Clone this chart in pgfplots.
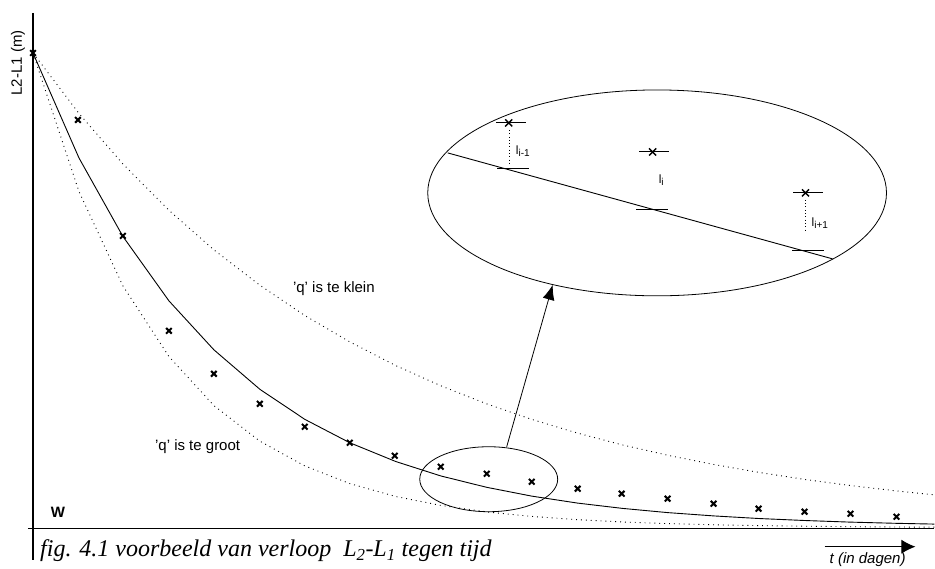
\documentclass[border=0pt]{standalone}
\usepackage{fontspec}
\setmainfont{Liberation Serif}
\setsansfont{Liberation Sans}
\usepackage{pgfplots}
\pgfplotsset{compat=1.18}
\usetikzlibrary{arrows.meta}

\pgfplotstableread{
x y
33 53
78 120
123 236
169 331
214 374
260 404
305 427
350 443
395 456
441 467
487 474
532 482
578 489
622 494
668 499
714 504
759 509
805 512
851 514
897 517
}\meas

\pgfplotstableread{
x y
33 53
79 158
123 236.6
169 301
214 350
260 389.5
305 419.6
350 443
396 461.8
441 476.2
487 487.6
532 496.4
578 503.4
623 508.7
668 512.9
714 516.2
759 518.8
805 520.8
850 522.4
896 523.6
935 524.4
}\fit

\pgfplotstableread{
x y
33 53
79 113.5
123 164.1
169 210.4
214 250
260 285.4
305 315.7
350 342.1
396 365.8
441 386
487 404.1
532 419.6
578 433.4
623 445.2
668 455.5
714 464.7
759 472.6
805 479.7
850 485.7
896 491.1
935 495.1
}\klein

\pgfplotstableread{
x y
33 53
79 191.6
123 286.1
169 356.7
214 405.8
260 441.4
305 466.2
350 483.9
396 496.8
441 505.7
487 512.2
532 516.7
578 520
623 522.3
668 523.9
714 525.1
759 525.9
805 526.5
850 527
896 527.3
935 527.5
}\groot

\newcommand{\lsub}[1]{l\raisebox{-2pt}{\fontsize{10}{10}\selectfont #1}}

\begin{document}
\begin{tikzpicture}
\begin{axis}[width=935pt,height=569pt,scale only axis,
  xmin=0,xmax=935,ymin=0,ymax=569,y dir=reverse,
  hide axis,clip=false]
\path (axis cs:0,0) rectangle (axis cs:935,569);
% axes
\addplot[black,line width=1.1pt] coordinates {(33,13) (33,560)};
\addplot[black,line width=1.1pt] coordinates {(28,529) (935,529)};
% curves
\addplot[black,line width=0.9pt] table[x=x,y=y] {\fit};
\addplot[black,line width=0.9pt,dash pattern=on 0.9pt off 4pt] table[x=x,y=y] {\klein};
\addplot[black,line width=0.9pt,dash pattern=on 0.9pt off 4pt] table[x=x,y=y] {\groot};
% measurements
\addplot[black,only marks,mark=x,mark size=4pt,mark options={line width=2pt}] table[x=x,y=y] {\meas};
% small ellipse and arrow
\draw[black,line width=0.8pt] (axis cs:489,479.5) ellipse [x radius=69pt, y radius=32.5pt];
\draw[black,line width=0.8pt,-{Latex[length=15pt,width=12pt]}] (axis cs:507,447) -- (axis cs:553,285);
% big ellipse
\draw[black,line width=0.8pt] (axis cs:657.5,193) ellipse [x radius=229.5pt, y radius=103pt];
\addplot[black,line width=0.9pt] coordinates {(448,153) (833,259)};
\addplot[black,only marks,mark=-,mark size=16pt,mark options={line width=1pt}] coordinates {(513,169) (652,210) (808,251)};
\addplot[black,only marks,mark=-,mark size=15pt,mark options={line width=1pt}] coordinates {(511,123) (654,152) (808,193)};
\addplot[black,only marks,mark=x,mark size=5pt,mark options={line width=1.4pt}] coordinates {(509,123) (653,152) (806,193)};
\addplot[black,line width=0.8pt,dash pattern=on 0.8pt off 2.5pt] coordinates {(510,130) (510,166)};
\addplot[black,line width=0.8pt,dash pattern=on 0.8pt off 2.5pt] coordinates {(806,200) (806,232)};
\node[anchor=west,font=\sffamily\fontsize{12}{12}\selectfont,inner sep=0pt] at (axis cs:516,151) {\lsub{i-1}};
\node[anchor=west,font=\sffamily\fontsize{12}{12}\selectfont,inner sep=0pt] at (axis cs:659,180) {\lsub{i}};
\node[anchor=west,font=\sffamily\fontsize{12}{12}\selectfont,inner sep=0pt] at (axis cs:812,223) {\lsub{i+1}};
% labels
\node[rotate=90,font=\sffamily\fontsize{15}{15}\selectfont,inner sep=0pt] at (axis cs:18,63) {L2-L1 (m)};
\node[anchor=west,font=\sffamily\fontsize{15}{15}\selectfont,inner sep=0pt] at (axis cs:293,289) {'q' is te klein};
\node[anchor=west,font=\sffamily\fontsize{15}{15}\selectfont,inner sep=0pt] at (axis cs:155,447) {'q' is te groot};
\node[font=\sffamily\bfseries\fontsize{15}{15}\selectfont,inner sep=0pt] at (axis cs:58,513) {W};
\node[anchor=west,font=\sffamily\itshape\fontsize{15}{15}\selectfont,inner sep=0pt] at (axis cs:830,560) {t (in dagen)};
\draw[black,line width=1pt,-{Latex[length=14pt,width=14pt]}] (axis cs:825,547) -- (axis cs:916,547);
\node[anchor=base west,font=\itshape\fontsize{24}{24}\selectfont,inner sep=0pt] at (axis cs:40,557) {fig. 4.1 voorbeeld van verloop\ \ L\textsubscript{2}-L\textsubscript{1} tegen tijd};
\end{axis}
\end{tikzpicture}
\end{document}
